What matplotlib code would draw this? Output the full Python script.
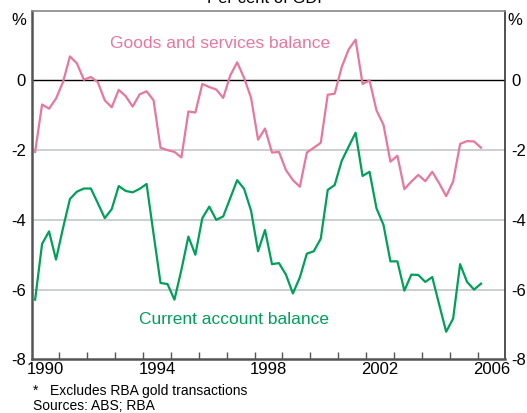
import matplotlib
matplotlib.use('Agg')
import matplotlib.pyplot as plt
import numpy as np

plt.rcParams['font.family'] = ['Liberation Sans', 'DejaVu Sans']

# quarterly data, 1990 Q1 to 2006 Q1, per cent of GDP
start_year = 1990
goods_services = [
    -2.05, -0.69, -0.81, -0.52, -0.05, 0.69, 0.49, 0.02, 0.10, -0.05,
    -0.57, -0.77, -0.27, -0.45, -0.75, -0.40, -0.31, -0.57, -1.93, -2.00,
    -2.05, -2.21, -0.89, -0.92, -0.10, -0.19, -0.26, -0.50, 0.14, 0.52,
    0.07, -0.50, -1.70, -1.38, -2.07, -2.05, -2.57, -2.86, -3.05, -2.07,
    -1.93, -1.79, -0.41, -0.38, 0.38, 0.89, 1.17, -0.10, 0.00, -0.86,
    -1.27, -2.33, -2.16, -3.12, -2.90, -2.71, -2.89, -2.62, -2.95, -3.32,
    -2.90, -1.82, -1.74, -1.75, -1.93,
]
current_account = [
    -6.29, -4.69, -4.33, -5.14, -4.24, -3.40, -3.19, -3.10, -3.10, -3.52,
    -3.95, -3.69, -3.03, -3.17, -3.21, -3.11, -2.97, -4.40, -5.81, -5.84,
    -6.29, -5.43, -4.48, -5.00, -3.95, -3.62, -4.00, -3.90, -3.38, -2.86,
    -3.11, -3.74, -4.90, -4.29, -5.27, -5.24, -5.57, -6.11, -5.65, -4.97,
    -4.90, -4.54, -3.14, -3.00, -2.31, -1.90, -1.50, -2.74, -2.62, -3.67,
    -4.14, -5.19, -5.19, -6.03, -5.57, -5.58, -5.78, -5.64, -6.43, -7.21,
    -6.83, -5.27, -5.78, -6.00, -5.83,
]
year_labels = ['1990', '1994', '1998', '2002', '2006']
y_ticks = [-8, -6, -4, -2, 0]

PINK = '#e8779f'
GREEN = '#00a05a'

n = len(goods_services)
x = start_year + (np.arange(n) + 0.5) / 4.0

fig = plt.figure(figsize=(5.27, 4.13), dpi=100)
ax = fig.add_axes([0.060, 0.130, 0.899, 0.844])

# grid lines and zero line
for v in [-6, -4, -2]:
    ax.axhline(v, color='#c8cacc', linewidth=1.3, zorder=1)
ax.axhline(0, color='black', linewidth=1.0, zorder=1)

ax.plot(x, goods_services, color=PINK, linewidth=1.6, zorder=3)
ax.plot(x, current_account, color=GREEN, linewidth=1.6, zorder=3)

ax.set_xlim(1990, 2007)
ax.set_ylim(-8, 2)

# year ticks (inside) and centred year labels
ax.set_xticks(np.arange(1991, 2007), minor=True)
ax.set_xticks([int(y) + 0.5 for y in year_labels])
ax.set_xticklabels(year_labels, fontsize=12)
ax.tick_params(axis='x', which='minor', direction='in', length=5, width=1, color='#555555')
ax.tick_params(axis='x', which='major', length=0, pad=2)

ax.set_yticks(y_ticks)
ax.set_yticklabels([str(v) for v in y_ticks], fontsize=12)
ax.tick_params(axis='y', which='major', length=0, pad=4,
               left=True, right=True, labelleft=True, labelright=True)

ax.text(-0.012, 1.72, '%', transform=ax.get_yaxis_transform(), ha='right', va='center', fontsize=12)
ax.text(1.004, 1.72, '%', transform=ax.get_yaxis_transform(), ha='left', va='center', fontsize=12)

for s in ['left', 'bottom']:
    ax.spines[s].set_color('#555555')
    ax.spines[s].set_linewidth(1.8)
ax.spines['right'].set_color('#333333')
ax.spines['right'].set_linewidth(1.2)
ax.spines['top'].set_color('#888888')
ax.spines['top'].set_linewidth(1.2)

# series labels
ax.text(1992.8, 1.05, 'Goods and services balance', color=PINK, fontsize=12.5, ha='left', va='center')
ax.text(1993.85, -6.85, 'Current account balance', color=GREEN, fontsize=12.5, ha='left', va='center')

# title, cut off at the top like the original
fig.text(0.508, 0.993, 'Per cent of GDP', ha='center', va='baseline', fontsize=12)

# footnotes
fig.text(0.062, 0.054, '*   Excludes RBA gold transactions', fontsize=10, ha='left', va='center')
fig.text(0.062, 0.017, 'Sources: ABS; RBA', fontsize=10, ha='left', va='center')

fig.savefig('out.png', dpi=100)
